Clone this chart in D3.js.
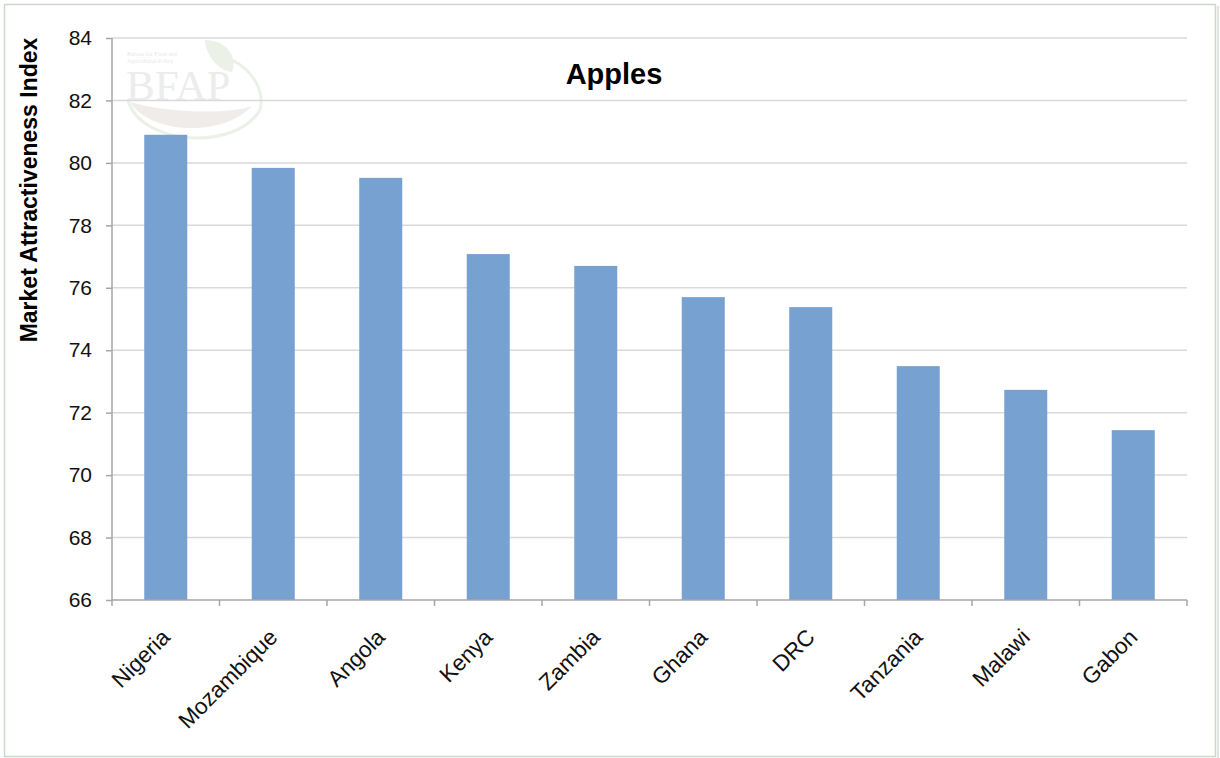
<!DOCTYPE html>
<html>
<head>
<meta charset="utf-8">
<script src="https://cdn.jsdelivr.net/npm/d3@7"></script>
<style>
  body { margin: 0; background: #fff; }
  svg { display: block; font-family: "Liberation Sans", Arial, sans-serif; }
</style>
</head>
<body>
<svg class="canvas" width="1220" height="758"></svg>
<script>
var countries = ["Nigeria", "Mozambique", "Angola", "Kenya", "Zambia", "Ghana", "DRC", "Tanzania", "Malawi", "Gabon"];
var index = [80.9, 79.84, 79.52, 77.08, 76.7, 75.7, 75.38, 73.49, 72.73, 71.44];
var yTicks = [66, 68, 70, 72, 74, 76, 78, 80, 82, 84];

var svg = d3.select(".canvas");

// frame
svg.append("rect")
    .attr("x", 4.5).attr("y", 4.5)
    .attr("width", 1211).attr("height", 752)
    .attr("fill", "none")
    .attr("stroke", "#cbd9c9")
    .attr("stroke-width", 1.5);
svg.append("line")
    .attr("x1", 1218).attr("x2", 1218).attr("y1", 6).attr("y2", 758)
    .attr("stroke", "#e0e6df").attr("stroke-width", 2);

var plotLeft = 112, plotRight = 1187, plotTop = 38, plotBottom = 600;

var x = d3.scaleBand()
    .domain(countries)
    .range([plotLeft, plotRight])
    .paddingInner(0.6)
    .paddingOuter(0.3);

var y = d3.scaleLinear()
    .domain([66, 84])
    .range([plotBottom, plotTop]);

// watermark logo
var logo = svg.append("g").attr("opacity", 0.6);
logo.append("path")
    .attr("d", "M128,100 C140,145 235,152 260,110 C265,90 252,70 232,60")
    .attr("fill", "none").attr("stroke", "#dfe8d8").attr("stroke-width", 3);
logo.append("path")
    .attr("d", "M130,102 C150,134 222,138 252,106 C232,114 170,114 130,102 Z")
    .attr("fill", "#e6e1dc");
logo.append("path")
    .attr("d", "M205,40 C225,40 238,55 232,72 C218,70 206,56 205,40 Z")
    .attr("fill", "#dfe8d6");
logo.append("text")
    .attr("x", 126).attr("y", 100)
    .attr("font-family", "Liberation Serif, serif")
    .attr("font-size", 43)
    .attr("fill", "#e0e0e0")
    .text("BFAP");
logo.append("text")
    .attr("x", 127).attr("y", 56)
    .attr("font-family", "Liberation Serif, serif")
    .attr("font-size", 6)
    .attr("fill", "#d8d8d8")
    .text("Bureau for Food and");
logo.append("text")
    .attr("x", 127).attr("y", 63)
    .attr("font-family", "Liberation Serif, serif")
    .attr("font-size", 6)
    .attr("fill", "#d8d8d8")
    .text("Agricultural Policy");

// gridlines
svg.append("g")
    .selectAll("line")
    .data(yTicks.filter(function(d) { return d !== 66; }))
    .enter()
    .append("line")
        .attr("x1", plotLeft).attr("x2", plotRight)
        .attr("y1", function(d) { return y(d); })
        .attr("y2", function(d) { return y(d); })
        .attr("stroke", "#d9d9d9")
        .attr("stroke-width", 1.5);

// bars
svg.append("g")
    .selectAll("rect")
    .data(countries)
    .enter()
    .append("rect")
        .attr("x", function(d) { return x(d); })
        .attr("y", function(d, i) { return y(index[i]); })
        .attr("width", x.bandwidth())
        .attr("height", function(d, i) { return plotBottom - y(index[i]); })
        .style("fill", "#76a1d0");

// y axis
var yAxis = svg.append("g")
    .attr("transform", "translate(" + plotLeft + ",0)")
    .call(d3.axisLeft(y).tickValues(yTicks).tickSize(6).tickPadding(14));
yAxis.select(".domain").attr("stroke", "#a6a6a6").attr("stroke-width", 1.5).attr("d", "M0," + plotTop + "V" + plotBottom);
yAxis.selectAll(".tick line").attr("stroke", "#a6a6a6").attr("stroke-width", 1.5);
yAxis.selectAll("text")
    .attr("font-size", 21)
    .attr("fill", "#111")
    .attr("font-family", "Liberation Sans, Arial, sans-serif");

// x axis: ticks at band boundaries
var bounds = d3.range(countries.length + 1).map(function(i) { return plotLeft + i * (plotRight - plotLeft) / countries.length; });
var xAxis = svg.append("g");
xAxis.append("line")
    .attr("x1", plotLeft).attr("x2", plotRight)
    .attr("y1", plotBottom).attr("y2", plotBottom)
    .attr("stroke", "#a6a6a6").attr("stroke-width", 1.5);
xAxis.selectAll(".xt")
    .data(bounds)
    .enter()
    .append("line")
        .attr("class", "xt")
        .attr("x1", function(d) { return d; })
        .attr("x2", function(d) { return d; })
        .attr("y1", plotBottom).attr("y2", plotBottom + 6)
        .attr("stroke", "#a6a6a6").attr("stroke-width", 1.5);
xAxis.selectAll("text")
    .data(countries)
    .enter()
    .append("text")
        .attr("transform", function(d) {
            return "translate(" + (x(d) + x.bandwidth() / 2 + 0) + "," + (plotBottom + 33) + ") rotate(-45)";
        })
        .attr("text-anchor", "end")
        .attr("dy", "0.35em")
        .attr("font-size", 22.5)
        .attr("fill", "#111")
        .text(function(d) { return d; });

// title
svg.append("text")
    .attr("x", 614).attr("y", 84)
    .attr("text-anchor", "middle")
    .attr("font-size", 29)
    .attr("font-weight", "bold")
    .attr("fill", "#000")
    .text("Apples");

// y label
svg.append("text")
    .attr("transform", "translate(37,190) rotate(-90)")
    .attr("text-anchor", "middle")
    .attr("font-size", 23)
    .attr("font-weight", "bold")
    .attr("fill", "#000")
    .text("Market Attractiveness Index");
</script>
</body>
</html>
